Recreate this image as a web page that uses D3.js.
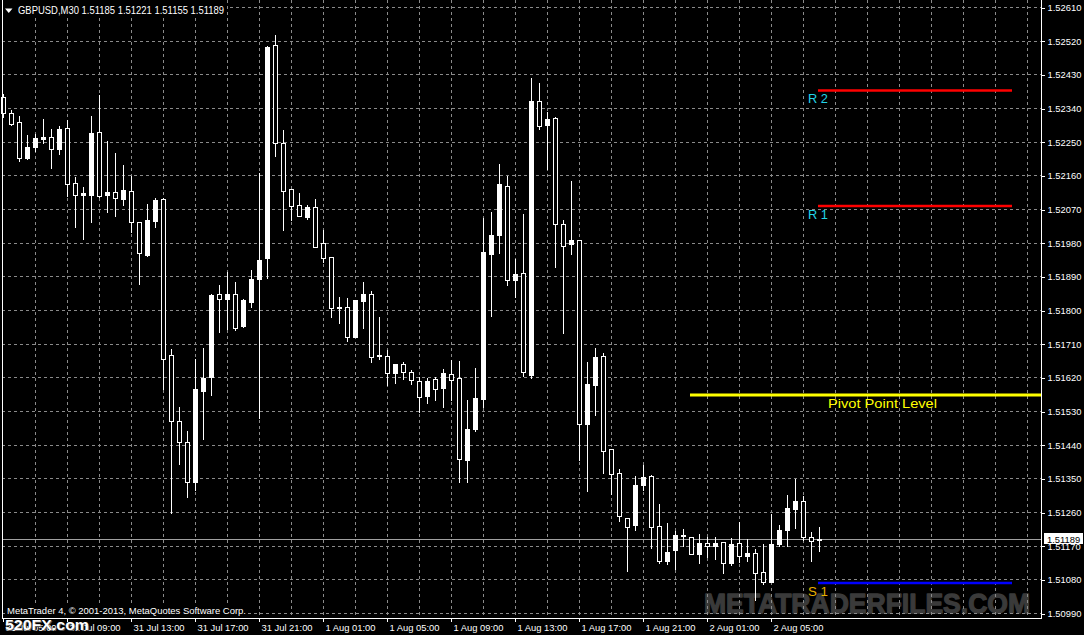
<!DOCTYPE html>
<html><head><meta charset="utf-8">
<script src="https://cdn.jsdelivr.net/npm/d3@7"></script>
<style>
html,body{margin:0;padding:0;background:#000;overflow:hidden}
text{font-family:"Liberation Sans",Arial,sans-serif}
</style>
</head><body>
<svg id="c" width="1084" height="635"></svg>
<script>
// ---------------- DATA ----------------
const symbol = "GBPUSD,M30";
// bar i = 31 Jul 05:00 + i*30min
const timeLabels = ["31 Jul 05:00","31 Jul 09:00","31 Jul 13:00","31 Jul 17:00","31 Jul 21:00",
  "1 Aug 01:00","1 Aug 05:00","1 Aug 09:00","1 Aug 13:00","1 Aug 17:00","1 Aug 21:00",
  "2 Aug 01:00","2 Aug 05:00"];
const barsPerLabel = 8;
const opens = [1.52369,1.52326,1.52302,1.52207,1.52237,1.52258,1.52262,1.52230,1.52286,1.52139,
  1.52108,1.52108,1.52275,1.52108,1.52116,1.52098,1.52117,1.52035,1.51947,1.52039,
  1.52096,1.51679,1.51503,1.51447,1.51339,1.51584,1.51621,1.51843,1.51830,1.51842,
  1.51757,1.51822,1.51884,1.51940,1.52508,1.52246,1.52123,1.52080,1.52049,1.52075,
  1.51978,1.51941,1.51808,1.51807,1.51727,1.51825,1.51842,1.51680,1.51676,1.51632,
  1.51656,1.51634,1.51610,1.51571,1.51616,1.51592,1.51629,1.51617,1.51399,1.51482,
  1.51562,1.51951,1.52001,1.52132,1.51880,1.51898,1.51625,1.52359,1.52295,1.52313,
  1.52029,1.51977,1.51986,1.51496,1.51600,1.51677,1.51429,1.51364,1.51243,1.51224,
  1.51333,1.51355,1.51222,1.51130,1.51159,1.51199,1.51194,1.51149,1.51177,1.51168,
  1.51179,1.51124,1.51177,1.51143,1.51150,1.51099,1.51074,1.51174,1.51212,1.51268,
  1.51290,1.51194,1.51185];
const highs = [1.52377,1.52335,1.52319,1.52268,1.52271,1.52311,1.52284,1.52292,1.52308,1.52156,
  1.52129,1.52319,1.52375,1.52252,1.52220,1.52188,1.52159,1.52036,1.52083,1.52099,
  1.52099,1.51695,1.51540,1.51477,1.51668,1.51699,1.51843,1.51867,1.51901,1.51875,
  1.51830,1.51907,1.52166,1.52506,1.52535,1.52281,1.52123,1.52113,1.52081,1.52097,
  1.52014,1.51941,1.51835,1.51831,1.51827,1.51875,1.51851,1.51780,1.51693,1.51656,
  1.51661,1.51640,1.51622,1.51617,1.51622,1.51642,1.51666,1.51664,1.51559,1.51645,
  1.52046,1.52062,1.52190,1.52159,1.51936,1.52057,1.52420,1.52407,1.52330,1.52315,
  1.52041,1.52145,1.51987,1.51661,1.51699,1.51685,1.51429,1.51374,1.51243,1.51356,
  1.51386,1.51359,1.51282,1.51230,1.51208,1.51214,1.51194,1.51201,1.51194,1.51192,
  1.51179,1.51190,1.51234,1.51188,1.51160,1.51174,1.51254,1.51225,1.51306,1.51348,
  1.51304,1.51206,1.51221];
const lows = [1.52317,1.52295,1.52197,1.52204,1.52226,1.52247,1.52180,1.52218,1.52105,1.52023,
  1.51991,1.52036,1.52103,1.52063,1.52050,1.52082,1.52008,1.51870,1.51944,1.52023,
  1.51589,1.51257,1.51388,1.51301,1.51319,1.51455,1.51574,1.51742,1.51750,1.51747,
  1.51755,1.51809,1.51511,1.51885,1.52212,1.52014,1.52041,1.52052,1.52043,1.51969,
  1.51929,1.51781,1.51766,1.51718,1.51727,1.51753,1.51660,1.51668,1.51600,1.51606,
  1.51616,1.51603,1.51528,1.51552,1.51559,1.51541,1.51559,1.51339,1.51339,1.51477,
  1.51542,1.51784,1.51952,1.51867,1.51834,1.51624,1.51619,1.52284,1.52177,1.51916,
  1.51739,1.51951,1.51398,1.51317,1.51518,1.51365,1.51307,1.51237,1.51101,1.51212,
  1.51319,1.51163,1.51124,1.51121,1.51107,1.51170,1.51147,1.51124,1.51141,1.51135,
  1.51098,1.51119,1.51127,1.51130,1.51025,1.51068,1.51074,1.51168,1.51168,1.51218,
  1.51185,1.51130,1.51155];
const closes = [1.52326,1.52298,1.52207,1.52236,1.52259,1.52262,1.52231,1.52284,1.52137,1.52108,
  1.52112,1.52272,1.52106,1.52116,1.52100,1.52120,1.52036,1.51952,1.52040,1.52094,
  1.51670,1.51504,1.51446,1.51339,1.51589,1.51618,1.51840,1.51830,1.51843,1.51753,
  1.51827,1.51883,1.51934,1.52503,1.52246,1.52119,1.52079,1.52052,1.52075,1.51969,
  1.51940,1.51806,1.51806,1.51727,1.51827,1.51843,1.51675,1.51677,1.51632,1.51656,
  1.51635,1.51612,1.51568,1.51610,1.51590,1.51632,1.51613,1.51402,1.51482,1.51565,
  1.51955,1.52001,1.52137,1.51880,1.51896,1.51635,1.52359,1.52293,1.52310,1.52029,
  1.51972,1.51987,1.51494,1.51603,1.51674,1.51424,1.51362,1.51248,1.51221,1.51332,
  1.51354,1.51219,1.51130,1.51152,1.51198,1.51197,1.51147,1.51177,1.51168,1.51177,
  1.51123,1.51174,1.51143,1.51150,1.51098,1.51074,1.51174,1.51212,1.51270,1.51290,
  1.51192,1.51183,1.51189];
const priceTicks = [1.52610,1.52520,1.52430,1.52340,1.52250,1.52160,1.52070,1.51980,1.51890,
  1.51800,1.51710,1.51620,1.51530,1.51440,1.51350,1.51260,1.51170,1.51080,1.50990];
// pivot levels
const levelNames  = ["R 2","R 1","Pivot Point Level","S 1"];
const levelValues = [1.52387,1.52078,1.51573,1.51070];
const levelColors = ["#ff0000","#ff0000","#ffff00","#0000ff"];
const levelLabelColors = ["#22d3e6","#22d3e6","#ffff00","#e8b000"];
const levelStartBar = [102,102,86,102];
const levelEndBar   = [126,126,null,126];

// ---------------- LAYOUT ----------------
const svg = d3.select("#c");
const plotL = 2, plotR = 1041, plotB = 618;
const n = opens.length;
const x = d3.scaleLinear().domain([0, n-1]).range([3.33, 3.33 + 8*(n-1)]);
const y = d3.scaleLinear().domain([priceTicks[priceTicks.length-1], priceTicks[0]]).range([613, 7]);
const row = v => Math.round(y(v));
const col = i => Math.round(x(i));

svg.append("rect").attr("width",1084).attr("height",635).attr("fill","#000");

// watermark
svg.append("text").attr("x",704).attr("y",612.5)
  .attr("font-size",27).attr("font-weight","bold").attr("fill","#3a3a3a")
  .attr("stroke","#3a3a3a").attr("stroke-width",1.3).attr("stroke-linejoin","round")
  .attr("font-family","'DejaVu Sans',sans-serif")
  .attr("textLength",326).attr("lengthAdjust","spacingAndGlyphs")
  .text("METATRADERFILES.COM");

// grid
const grid = svg.append("g").attr("shape-rendering","crispEdges")
  .attr("stroke","#8a8a8a").attr("stroke-dasharray","3,3");
grid.selectAll("line.h").data(priceTicks).join("line")
  .attr("x1",plotL).attr("x2",plotR)
  .attr("y1",d=>row(d)+0.5).attr("y2",d=>row(d)+0.5);
const vIdx = d3.range(4, 200, 4).filter(i => x(i) < plotR-2);
grid.selectAll("line.v").data(vIdx).join("line")
  .attr("x1",d=>col(d)+0.5).attr("x2",d=>col(d)+0.5)
  .attr("y1",0).attr("y2",plotB);

// bid line
const last = n-1;
svg.append("line").attr("shape-rendering","crispEdges")
  .attr("x1",plotL).attr("x2",plotR)
  .attr("y1",row(closes[last])+0.5).attr("y2",row(closes[last])+0.5)
  .attr("stroke","#a0a0a0");

// pivot level lines
const levels = levelNames.map((name,i)=>({name, v:levelValues[i], c:levelColors[i],
  lc:levelLabelColors[i], s:levelStartBar[i], e:levelEndBar[i]}));
const lv = svg.append("g");
lv.selectAll("line").data(levels).join("line")
  .attr("x1",d=>col(d.s)-1).attr("x2",d=>d.e===null?plotR:col(d.e)+1)
  .attr("y1",d=>y(d.v)).attr("y2",d=>y(d.v))
  .attr("stroke",d=>d.c).attr("stroke-width",d=>d.name.startsWith("Pivot")?3:2.5);
lv.selectAll("text").data(levels).join("text")
  .attr("x",d=>d.name.startsWith("Pivot")? col(d.s)+137 : col(d.s)-11)
  .attr("y",d=>y(d.v)+13)
  .attr("font-size",13).attr("fill",d=>d.lc)
  .attr("textLength",d=>d.name.startsWith("Pivot")?109:20)
  .attr("lengthAdjust","spacingAndGlyphs")
  .text(d=>d.name);

// candles
const bars = opens.map((o,i)=>({i,o,h:highs[i],l:lows[i],c:closes[i]}));
const cg = svg.append("g").attr("shape-rendering","crispEdges");
cg.selectAll("rect.wick").data(bars).join("rect")
  .attr("x",d=>col(d.i)).attr("width",1)
  .attr("y",d=>row(d.h)).attr("height",d=>row(d.l)-row(d.h)+1)
  .attr("fill","#fff");
cg.selectAll("rect.body").data(bars).join("rect")
  .attr("x",d=>col(d.i)-2).attr("width",5)
  .attr("y",d=>row(Math.max(d.o,d.c)))
  .attr("height",d=>row(Math.min(d.o,d.c))-row(Math.max(d.o,d.c))+1)
  .attr("fill","#fff");
cg.selectAll("rect.hollow").data(bars.filter(d=>d.c<d.o && row(d.c)-row(d.o)>=2)).join("rect")
  .attr("x",d=>col(d.i)-1).attr("width",3)
  .attr("y",d=>row(d.o)+1)
  .attr("height",d=>row(d.c)-row(d.o)-1)
  .attr("fill","#000");

// borders
const bd = svg.append("g").attr("stroke","#fff").attr("shape-rendering","crispEdges");
bd.append("line").attr("x1",plotL+0.5).attr("x2",plotL+0.5).attr("y1",0).attr("y2",plotB+1);
bd.append("line").attr("x1",plotR+0.5).attr("x2",plotR+0.5).attr("y1",0).attr("y2",plotB+1);
bd.append("line").attr("x1",plotL).attr("x2",plotR+1).attr("y1",plotB+0.5).attr("y2",plotB+0.5);

// right price axis
const ya = d3.axisRight(y).tickValues(priceTicks).tickFormat(d3.format(".5f"))
  .tickSize(3).tickPadding(3).tickSizeOuter(0);
const yg = svg.append("g").attr("transform",`translate(${plotR+0.5},0.5)`).call(ya);
yg.select(".domain").remove();
yg.selectAll(".tick line").attr("stroke","#fff").attr("shape-rendering","crispEdges");
yg.selectAll(".tick text").attr("fill","#fff").attr("font-size",9.4)
  .attr("font-family","'Liberation Sans',Arial,sans-serif");

// current price box
const cp = row(closes[last]);
svg.append("rect").attr("x",1044).attr("y",cp-6).attr("width",39).attr("height",11).attr("fill","#fff");
svg.append("text").attr("x",1047).attr("y",cp+3.5).attr("font-size",9.4).attr("fill","#000")
  .text(d3.format(".5f")(closes[last]));

// bottom time axis
const xTicks = timeLabels.map((_,i)=>i*barsPerLabel);
const xa = d3.axisBottom(x).tickValues(xTicks).tickFormat((d,i)=>timeLabels[i])
  .tickSize(4).tickPadding(2).tickSizeOuter(0);
const xg = svg.append("g").attr("transform",`translate(0.5,${plotB})`).call(xa);
xg.select(".domain").remove();
xg.selectAll(".tick").attr("transform",d=>`translate(${col(d)},0)`);
xg.selectAll(".tick line").attr("stroke","#fff").attr("shape-rendering","crispEdges");
xg.selectAll(".tick text").attr("fill","#fff").attr("font-size",9.4)
  .attr("text-anchor","start").attr("x",2).attr("dy","0.71em")
  .attr("font-family","'Liberation Sans',Arial,sans-serif");

// header
const headTxt = `${symbol}  ${opens[last].toFixed(5)} ${highs[last].toFixed(5)} ${lows[last].toFixed(5)} ${closes[last].toFixed(5)}`;
svg.append("rect").attr("x",3).attr("y",0).attr("width",224).attr("height",17).attr("fill","#000");
svg.append("path").attr("d","M5,8.5 L12.5,8.5 L8.75,13 Z").attr("fill","#fff");
svg.append("text").attr("x",18).attr("y",14).attr("font-size",10.2).attr("fill","#fff")
  .attr("textLength",206).attr("lengthAdjust","spacingAndGlyphs").text(headTxt);

// copyright
svg.append("rect").attr("x",5).attr("y",605).attr("width",243).attr("height",12).attr("fill","#000");
svg.append("text").attr("x",7).attr("y",614).attr("font-size",9.5).attr("fill","#fff")
  .attr("textLength",239).attr("lengthAdjust","spacingAndGlyphs")
  .text("MetaTrader 4, © 2001-2013, MetaQuotes Software Corp.");

// 520FX logo
svg.append("text").attr("x",6).attr("y",631).attr("font-size",15).attr("font-weight","bold")
  .attr("fill","#555").attr("textLength",84).attr("lengthAdjust","spacingAndGlyphs").text("520FX.com");
svg.append("text").attr("x",5).attr("y",630).attr("font-size",15).attr("font-weight","bold")
  .attr("fill","#fff").attr("textLength",84).attr("lengthAdjust","spacingAndGlyphs").text("520FX.com");
</script>
</body></html>
